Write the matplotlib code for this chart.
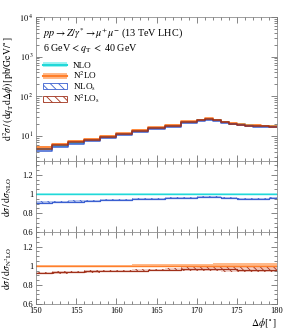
import numpy as np
import matplotlib
matplotlib.use("Agg")
import matplotlib.pyplot as plt
from matplotlib.patches import Patch
from matplotlib.lines import Line2D
from matplotlib.ticker import MultipleLocator, LogLocator, FixedLocator, NullFormatter

plt.rcParams['font.family'] = ['Liberation Serif', 'DejaVu Serif']
plt.rcParams['mathtext.fontset'] = 'stix'
plt.rcParams['hatch.linewidth'] = 0.6

# ---------------- data ----------------
bin_edges = [150, 152, 154, 156, 158, 160, 162, 164, 166, 168, 170,
             171, 172, 173, 174, 175, 176, 177, 178, 179, 180]
nlo = [4.7, 5.7, 6.8, 7.8, 9.5, 11.0, 13.3, 15.7, 18.0, 22.4,
       24.8, 26.9, 24.9, 22.2, 20.5, 19.5, 18.5, 18.1, 17.8, 17.5]
n2lo = [5.2, 6.3, 7.4, 8.4, 10.2, 11.7, 14.1, 16.5, 18.8, 23.3,
        25.6, 27.7, 25.6, 22.8, 21.1, 20.0, 19.0, 18.6, 18.3, 18.0]
nlo_s = [4.28, 5.22, 6.26, 7.25, 8.88, 10.34, 12.57, 14.92, 17.19, 21.50,
         23.93, 25.96, 24.03, 21.31, 19.58, 18.53, 17.58, 17.20, 16.91, 16.71]
n2lo_s = [4.81, 5.86, 6.92, 7.90, 9.62, 11.08, 13.40, 15.76, 18.05, 22.48,
          24.83, 26.87, 24.83, 22.00, 20.36, 19.20, 18.24, 17.86, 17.57, 17.28]
# relative uncertainties (half widths)
nlo_err = [0.006, 0.006, 0.006, 0.006, 0.006, 0.006, 0.006, 0.006, 0.006, 0.006,
           0.006, 0.006, 0.006, 0.006, 0.006, 0.006, 0.006, 0.006, 0.006, 0.006]
n2lo_err = [0.012, 0.012, 0.012, 0.012, 0.013, 0.013, 0.014, 0.015, 0.016, 0.018,
            0.020, 0.022, 0.024, 0.025, 0.026, 0.027, 0.028, 0.029, 0.030, 0.030]
nlo_s_err = [0.012, 0.012, 0.012, 0.012, 0.012, 0.012, 0.012, 0.012, 0.012, 0.012,
             0.012, 0.012, 0.012, 0.012, 0.012, 0.012, 0.012, 0.012, 0.012, 0.012]
n2lo_s_err = [0.012, 0.012, 0.012, 0.012, 0.012, 0.013, 0.014, 0.015, 0.016, 0.018,
              0.020, 0.022, 0.024, 0.025, 0.026, 0.027, 0.028, 0.029, 0.030, 0.030]

x_ticks = [150, 155, 160, 165, 170, 175, 180]
ratio_ticks = [0.6, 0.8, 1.0, 1.2]
ratio_labels = ['0.6', '0.8', '1', '1.2']

# ---------------- styles ----------------
c_nlo, c_nlo_band = '#22d8d8', '#9ff3f3'
c_n2lo, c_n2lo_band = '#ff7f2a', '#ffb98a'
c_nlos = '#3a5fd0'
c_n2los = '#a0301a'

edges = np.array(bin_edges, dtype=float)

def stepvals(v):
    v = np.asarray(v, dtype=float)
    return np.append(v, v[-1])

fig = plt.figure(figsize=(2.88, 3.33), dpi=100)
gs = fig.add_gridspec(3, 1, height_ratios=[2, 1, 1], hspace=0,
                      left=0.125, right=0.962, top=0.949, bottom=0.087)
ax0 = fig.add_subplot(gs[0])
ax1 = fig.add_subplot(gs[1], sharex=ax0)
ax2 = fig.add_subplot(gs[2], sharex=ax0)

def band(ax, lo, hi, color=None, hatch=None, ec=None, alpha=1.0):
    if hatch is None:
        ax.fill_between(edges, stepvals(lo), stepvals(hi), step='post',
                        color=color, lw=0, alpha=alpha)
    else:
        ax.fill_between(edges, stepvals(lo), stepvals(hi), step='post',
                        facecolor='none', edgecolor=ec, hatch=hatch, lw=0)

def line(ax, v, color, lw=1.0):
    ax.step(edges, stepvals(v), where='post', color=color, lw=lw)

# main panel
for vals, err, col, bcol, hatch in [
        (nlo, nlo_err, c_nlo, c_nlo_band, None),
        (n2lo, n2lo_err, c_n2lo, c_n2lo_band, None),
        (nlo_s, nlo_s_err, c_nlos, None, '\\\\\\\\'),
        (n2lo_s, n2lo_s_err, c_n2los, None, '\\\\\\\\')]:
    v = np.array(vals); e = np.array(err) + 0.03
    if hatch is None:
        band(ax0, v * (1 - e), v * (1 + e), color=bcol)
    line(ax0, vals, col, lw=1.1)

ax0.set_yscale('log')
ax0.set_ylim(2.4, 1e4)
ax0.set_xlim(150, 180)
ax0.yaxis.set_major_locator(FixedLocator([10, 100, 1000, 10000]))
ax0.yaxis.set_minor_locator(LogLocator(base=10, subs=np.arange(2, 10) * 1.0, numticks=20))
ax0.set_yticklabels([r'$10^{\,1}$', r'$10^{\,2}$', r'$10^{\,3}$', r'$10^{\,4}$'])
ax0.yaxis.set_minor_formatter(NullFormatter())
ax0.set_ylabel(r'$\mathrm{d}^2\sigma\,/\,(\mathrm{d}q_\mathrm{T}\mathrm{d}\Delta\phi)\,[\mathrm{pb/GeV/}^\circ]$',
               fontsize=7, labelpad=2)

ax0.text(0.03, 0.865, r'$pp\rightarrow Z/\gamma^{*}\rightarrow \mu^{+}\mu^{-}$ (13 TeV LHC)',
         transform=ax0.transAxes, fontsize=7.3)
ax0.text(0.03, 0.76, r'6 GeV$<\,q_\mathrm{T}\,<$ 40 GeV',
         transform=ax0.transAxes, fontsize=7.3)

handles = [
    (Patch(facecolor=c_nlo_band, edgecolor='none'), Line2D([], [], color=c_nlo, lw=1.5)),
    (Patch(facecolor=c_n2lo_band, edgecolor='none'), Line2D([], [], color=c_n2lo, lw=1.5)),
    Patch(facecolor='none', edgecolor=c_nlos, hatch='\\\\\\\\', lw=0.6),
    Patch(facecolor='none', edgecolor=c_n2los, hatch='\\\\\\\\', lw=0.6),
]
labels = ['NLO', r'N$^2$LO', r'NLO$_\mathrm{s}$', r'N$^2$LO$_\mathrm{s}$']
ax0.legend(handles, labels,
           loc='upper left', bbox_to_anchor=(0.015, 0.715), frameon=False, fontsize=6.6,
           handlelength=2.6, handleheight=0.6, labelspacing=0.02, borderaxespad=0,
           handletextpad=0.6)

# middle ratio panel: / NLO
r_nlo = np.array(nlo) / np.array(nlo)
r_nlos = np.array(nlo_s) / np.array(nlo)
band(ax1, r_nlo - np.array(nlo_err), r_nlo + np.array(nlo_err), color=c_nlo_band)
line(ax1, r_nlo, c_nlo, lw=1.0)
band(ax1, r_nlos - np.array(nlo_s_err), r_nlos + np.array(nlo_s_err), color='#b8c6f0')
band(ax1, r_nlos - np.array(nlo_s_err), r_nlos + np.array(nlo_s_err), hatch='\\\\\\\\\\', ec=c_nlos)
line(ax1, r_nlos, c_nlos, lw=0.9)
ax1.set_ylabel(r'$\mathrm{d}\sigma\,/\,\mathrm{d}\sigma_\mathrm{NLO}$', fontsize=7, labelpad=4)

# bottom ratio panel: / N2LO
r_n2lo = np.array(n2lo) / np.array(n2lo)
r_n2los = np.array(n2lo_s) / np.array(n2lo)
band(ax2, r_n2lo - np.array(n2lo_err), r_n2lo + np.array(n2lo_err), color=c_n2lo_band)
line(ax2, r_n2lo, c_n2lo, lw=1.0)
band(ax2, r_n2los - np.array(n2lo_s_err), r_n2los + np.array(n2lo_s_err), color='#f0c8c0', alpha=0.8)
band(ax2, r_n2los - np.array(n2lo_s_err), r_n2los + np.array(n2lo_s_err), hatch='\\\\\\\\\\', ec=c_n2los)
line(ax2, r_n2los, c_n2los, lw=0.9)
ax2.set_ylabel(r'$\mathrm{d}\sigma\,/\,\mathrm{d}\sigma_{\mathrm{N^2LO}}$', fontsize=7, labelpad=4)

for ax in (ax1, ax2):
    ax.set_ylim(0.6, 1.35)
    ax.yaxis.set_major_locator(FixedLocator(ratio_ticks))
    ax.set_yticklabels(ratio_labels)
    ax.yaxis.set_minor_locator(MultipleLocator(0.05))

ax2.set_xticks(x_ticks)
ax2.set_xticklabels([str(t) for t in x_ticks])
ax2.xaxis.set_minor_locator(MultipleLocator(1))
ax2.set_xlabel(r'$\Delta\phi[^\circ]$', fontsize=7, loc='right', labelpad=1)

for ax in (ax0, ax1, ax2):
    ax.tick_params(which='both', direction='in', top=True, right=True,
                   labelsize=6, color='#555555', pad=2)
    ax.tick_params(which='major', length=4, width=0.5)
    ax.tick_params(which='minor', length=2, width=0.5)
    for s in ax.spines.values():
        s.set_linewidth(0.5)
        s.set_color('#777777')
    if ax is not ax2:
        plt.setp(ax.get_xticklabels(), visible=False)

fig.align_ylabels([ax0, ax1, ax2])
fig.savefig('out.png', dpi=100)
